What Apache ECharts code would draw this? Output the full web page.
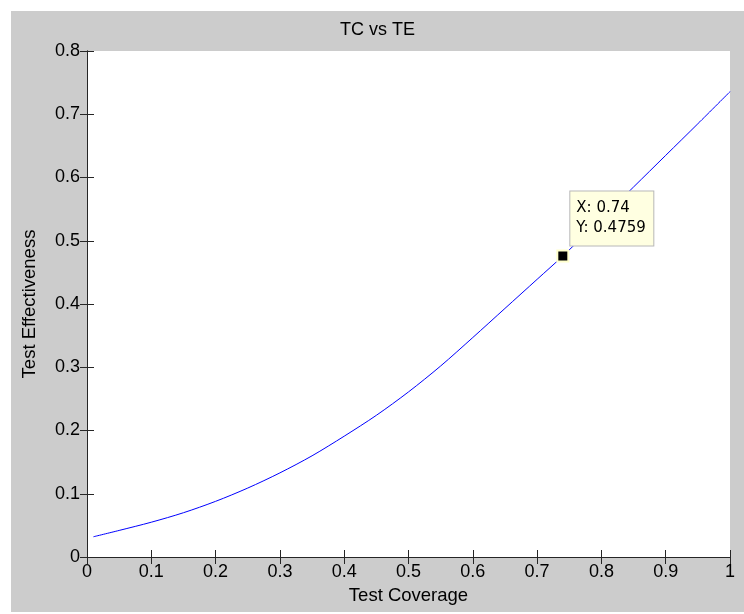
<!DOCTYPE html>
<html>
<head>
<meta charset="utf-8">
<script src="https://cdn.jsdelivr.net/npm/echarts@6/dist/echarts.min.js"></script>
<style>
    html, body { margin:0; padding:0; background:#ffffff; }
    #chart { position:absolute; left:11px; top:11px; width:733px; height:601px; background:#cccccc; }
</style>
</head>
<body>
<div id="chart"></div>
<script>
// test coverage (x) vs test effectiveness (y)
var coverage = [0.01, 0.05, 0.1, 0.15, 0.2, 0.25, 0.3, 0.35, 0.4, 0.45, 0.5, 0.55, 0.6, 0.65, 0.7, 0.74, 0.8, 0.85, 0.9, 0.95, 1.0];
var effectiveness = [0.032, 0.042, 0.055, 0.070, 0.088, 0.109, 0.133, 0.160, 0.191, 0.224, 0.261, 0.302, 0.347, 0.393, 0.439, 0.4759, 0.535, 0.585, 0.635, 0.685, 0.7357];
// data tip
var tipX = 0.74;
var tipY = 0.4759;

var points = [];
for (var i = 0; i < coverage.length; i++) {
    points.push([coverage[i], effectiveness[i]]);
}

var mychart = echarts.init(document.getElementById('chart'));
var font = 'Liberation Sans, Arial, sans-serif';
var axisLine = {show:true, lineStyle:{color:'#262626', width:1}};
var tick = {show:true, inside:true, length:7, lineStyle:{color:'#262626'}};

var option = {
    backgroundColor:'#cccccc',
    animation:false,
    title:{
        text:'TC vs TE',
        left:'center',
        top:5,
        textStyle:{fontFamily:font, fontSize:18, fontWeight:'normal', color:'#000000'}
    },
    grid:{
        left:76, top:40, right:14, bottom:55,
        show:true, backgroundColor:'#ffffff', borderWidth:0
    },
    xAxis:[
        {
            type:'value', min:0, max:1, interval:0.1, position:'bottom',
            name:'Test Coverage', nameLocation:'middle', nameGap:29,
            nameTextStyle:{fontFamily:font, fontSize:18.5, color:'#000000'},
            axisLine:axisLine, axisTick:tick, splitLine:{show:false},
            axisLabel:{fontFamily:font, fontSize:18, color:'#000000', margin:6}
        },
        {
            type:'value', min:0, max:1, interval:0.1, position:'top',
            axisLine:axisLine, axisTick:tick, splitLine:{show:false},
            axisLabel:{show:false}
        }
    ],
    yAxis:[
        {
            type:'value', min:0, max:0.8, interval:0.1, position:'left',
            name:'Test Effectiveness', nameLocation:'middle', nameGap:48,
            nameTextStyle:{fontFamily:font, fontSize:18.5, color:'#000000'},
            axisLine:axisLine, axisTick:tick, splitLine:{show:false},
            axisLabel:{fontFamily:font, fontSize:18, color:'#000000', margin:7}
        },
        {
            type:'value', min:0, max:0.8, interval:0.1, position:'right',
            axisLine:axisLine, axisTick:tick, splitLine:{show:false},
            axisLabel:{show:false}
        }
    ],
    series:[
        {
            type:'line',
            data:points,
            smooth:0.3,
            showSymbol:false,
            lineStyle:{color:'#0000ff', width:1},
            markPoint:{
                symbol:'rect',
                symbolSize:11,
                itemStyle:{color:'#000000', borderColor:'#ffffcc', borderWidth:2},
                label:{
                    show:true,
                    position:[14, -58],
                    formatter:'X: ' + tipX + '\nY: ' + tipY,
                    fontFamily:'DejaVu Sans, sans-serif',
                    fontSize:15,
                    color:'#000000',
                    lineHeight:20,
                    width:71,
                    align:'left',
                    verticalAlign:'top',
                    backgroundColor:'#ffffe1',
                    borderColor:'#b8b8b8',
                    borderWidth:1,
                    padding:[7, 6, 7, 6]
                },
                data:[{coord:[tipX, tipY]}]
            }
        }
    ]
};
mychart.setOption(option);
</script>
</body>
</html>
